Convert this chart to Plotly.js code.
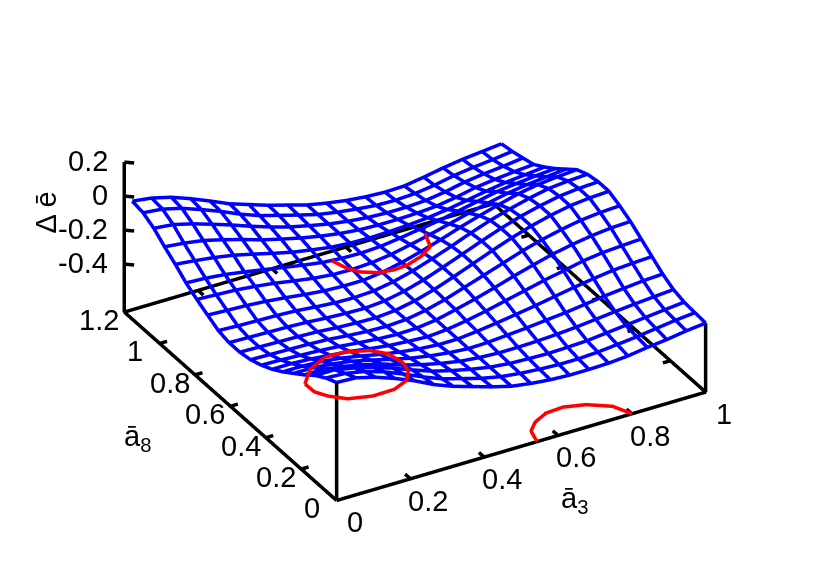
<!DOCTYPE html>
<html><head><meta charset="utf-8">
<script src="https://cdn.plot.ly/plotly-3.0.1.min.js"></script>
<style>html,body{margin:0;padding:0;background:#fff}#g{width:830px;height:581px}</style></head>
<body><div id="g"></div>
<script>
const xs=[0,.0526,.1053,.1579,.2105,.2632,.3158,.3684,.4211,.4737,.5263,.5789,.6316,.6842,.7368,.7895,.8421,.8947,.9474,1];
const ys=[0,.0608,.1215,.1823,.2431,.3039,.3646,.4254,.4862,.547,.6077,.6685,.7293,.7901,.8508,.9116,.9724,1.0332,1.0939,1.1547];
const Z=[
[.012,.006,-.024,-.065,-.112,-.168,-.212,-.247,-.282,-.312,-.329,-.341,-.347,-.347,-.344,-.335,-.318,-.306,-.288,-.276],
[-.018,-.024,-.047,-.082,-.129,-.179,-.224,-.256,-.288,-.312,-.326,-.335,-.341,-.341,-.335,-.324,-.312,-.297,-.282,-.271],
[-.059,-.059,-.082,-.112,-.15,-.194,-.235,-.265,-.291,-.312,-.324,-.329,-.332,-.329,-.324,-.312,-.3,-.288,-.276,-.265],
[-.112,-.112,-.129,-.153,-.182,-.221,-.253,-.279,-.3,-.312,-.318,-.318,-.315,-.309,-.3,-.288,-.276,-.265,-.256,-.247],
[-.159,-.159,-.171,-.188,-.215,-.244,-.271,-.291,-.306,-.315,-.312,-.303,-.294,-.282,-.271,-.256,-.241,-.229,-.218,-.212],
[-.206,-.206,-.212,-.226,-.247,-.271,-.291,-.306,-.315,-.315,-.303,-.288,-.271,-.253,-.232,-.212,-.194,-.179,-.171,-.165],
[-.247,-.247,-.253,-.265,-.276,-.294,-.309,-.318,-.324,-.315,-.297,-.274,-.247,-.221,-.194,-.171,-.147,-.132,-.124,-.118],
[-.279,-.282,-.288,-.294,-.303,-.315,-.326,-.332,-.329,-.315,-.288,-.259,-.226,-.191,-.159,-.129,-.106,-.088,-.076,-.071],
[-.303,-.306,-.309,-.312,-.318,-.329,-.338,-.341,-.335,-.315,-.285,-.247,-.209,-.171,-.132,-.1,-.074,-.053,-.041,-.035],
[-.315,-.318,-.321,-.324,-.329,-.338,-.344,-.347,-.338,-.315,-.282,-.241,-.197,-.153,-.112,-.076,-.047,-.024,-.012,-.006],
[-.315,-.318,-.321,-.324,-.329,-.338,-.344,-.347,-.338,-.315,-.282,-.241,-.197,-.153,-.112,-.076,-.047,-.024,-.012,-.006],
[-.3,-.306,-.309,-.312,-.318,-.329,-.338,-.341,-.335,-.315,-.285,-.247,-.206,-.162,-.121,-.088,-.059,-.035,-.024,-.018],
[-.265,-.271,-.276,-.285,-.297,-.312,-.324,-.329,-.329,-.315,-.291,-.259,-.224,-.185,-.15,-.118,-.088,-.068,-.056,-.047],
[-.229,-.235,-.241,-.253,-.268,-.288,-.306,-.318,-.321,-.315,-.3,-.276,-.25,-.221,-.191,-.165,-.141,-.124,-.112,-.1],
[-.188,-.194,-.206,-.224,-.244,-.265,-.285,-.303,-.312,-.315,-.309,-.294,-.276,-.259,-.235,-.212,-.188,-.174,-.162,-.153],
[-.135,-.147,-.162,-.182,-.209,-.238,-.265,-.285,-.303,-.312,-.315,-.312,-.306,-.297,-.282,-.262,-.241,-.224,-.212,-.2],
[-.088,-.1,-.118,-.147,-.179,-.215,-.244,-.271,-.294,-.312,-.324,-.329,-.329,-.326,-.318,-.3,-.276,-.262,-.25,-.241],
[-.035,-.047,-.076,-.112,-.15,-.191,-.229,-.262,-.288,-.312,-.329,-.341,-.347,-.347,-.341,-.324,-.3,-.285,-.274,-.259],
[0,-.012,-.041,-.082,-.126,-.176,-.218,-.25,-.282,-.312,-.332,-.347,-.359,-.362,-.356,-.341,-.318,-.303,-.291,-.276],
[.012,-.003,-.032,-.074,-.121,-.171,-.209,-.247,-.279,-.312,-.335,-.353,-.365,-.371,-.368,-.35,-.329,-.312,-.3,-.288]];
const zBase=-0.682, zTop=0.2, yEnd=1.2;
const c1x=[.203,.246,.305,.358,.412,.442,.451,.443,.419,.373,.314,.256,.222,.204,.203];
const c1y=[.6025,.664,.702,.699,.671,.629,.566,.519,.477,.451,.449,.471,.512,.551,.6025];
const c2x=[.540,.554,.573,.606,.646,.685,.731,.773,.793];
const c2y=[1.1547,1.0956,1.06,1.033,1.023,1.028,1.049,1.0835,1.1547];
const c3x=[.543,.555,.584,.627,.675,.728,.778,.80];
const c3y=[0,.059,.096,.124,.129,.108,.063,0];
const xTicks=[0,.2,.4,.6,.8,1], xLabels=['0','0.2','0.4','0.6','0.8','1'];
const yTicks=[0,.2,.4,.6,.8,1,1.2], yLabels=['0','0.2','0.4','0.6','0.8','1','1.2'];
const zTicks=[-.4,-.2,0,.2], zLabels=['-0.4','-0.2','0','0.2'];

function seg(a){const o={x:[],y:[],z:[]};a.forEach(s=>{s.forEach(p=>{o.x.push(p[0]);o.y.push(p[1]);o.z.push(p[2]);});o.x.push(null);o.y.push(null);o.z.push(null);});return o;}
const wire=[];
ys.forEach((y,i)=>wire.push(xs.map((x,j)=>[x,y,Z[i][j]])));
xs.forEach((x,j)=>wire.push(ys.map((y,i)=>[x,y,Z[i][j]])));
const box=[[[0,0,zBase],[1,0,zBase],[1,yEnd,zBase],[0,yEnd,zBase],[0,0,zBase]],
 [[0,yEnd,zBase],[0,yEnd,zTop]],
 [[0,0,zBase],[0,0,Z[0][0]]],
 [[1,0,zBase],[1,0,Z[0][19]]]];
xTicks.slice(1,-1).forEach(t=>{box.push([[t,0,zBase],[t,.03,zBase]]);box.push([[t,yEnd,zBase],[t,yEnd-.03,zBase]]);});
yTicks.slice(1,-1).forEach(t=>{box.push([[0,t,zBase],[.02,t,zBase]]);box.push([[1,t,zBase],[.98,t,zBase]]);});
zTicks.forEach(t=>{box.push([[0,yEnd,t],[.018,yEnd-.018,t]]);});
const LW=7;
const traces=[
 Object.assign({type:'scatter3d',mode:'lines',line:{color:'#000',width:LW},hoverinfo:'skip',showlegend:false},seg(box)),
 Object.assign({type:'scatter3d',mode:'lines',line:{color:'#0000ff',width:LW},showlegend:false},seg(wire)),
 {type:'scatter3d',scene:'scene2',mode:'lines',x:c1x,y:c1y,z:c1x.map(()=>zBase),line:{color:'#ff0000',width:LW},showlegend:false},
 {type:'scatter3d',scene:'scene2',mode:'lines',x:c2x,y:c2y,z:c2x.map(()=>zBase),line:{color:'#ff0000',width:LW},showlegend:false},
 {type:'scatter3d',scene:'scene2',mode:'lines',x:c3x,y:c3y,z:c3x.map(()=>zBase),line:{color:'#ff0000',width:LW},showlegend:false}
];
const F={family:'Liberation Sans, Arial, sans-serif',size:29,color:'#000'};
const ann=[];
xTicks.forEach((t,k)=>ann.push({x:t,y:0,z:zBase,text:xLabels[k],showarrow:false,xshift:18,yshift:-22,font:F}));
yTicks.forEach((t,k)=>ann.push({x:0,y:t,z:zBase,text:yLabels[k],showarrow:false,xshift:-25,yshift:-8,font:F}));
zTicks.forEach((t,k)=>ann.push({x:0,y:yEnd,z:t,text:zLabels[k],showarrow:false,xshift:-14,yshift:1,xanchor:'right',font:F}));
ann.push({x:.62,y:0,z:zBase,text:'ā<sub>3</sub>',showarrow:false,xshift:9,yshift:-67,font:F});
ann.push({x:0,y:.62,z:zBase,text:'ā<sub>8</sub>',showarrow:false,xshift:-89,yshift:-35,font:F});
ann.push({x:0,y:yEnd,z:-.1,text:'Δ ē',showarrow:false,xshift:-78,yshift:1,textangle:-90,font:F});
const dir=[-.4287,-.7454,.5105], R=1.5, cz=-0.0536;
const ax={visible:false,showgrid:false,zeroline:false,showticklabels:false,showspikes:false,showbackground:false};
function sceneCfg(a){return {domain:{x:[0,1],y:[0,1]},aspectmode:'manual',aspectratio:{x:1.495,y:1.495,z:.614},
  xaxis:Object.assign({range:[-.01,1.01]},ax),yaxis:Object.assign({range:[-.012,yEnd+.012]},ax),zaxis:Object.assign({range:[zBase-.01,zTop+.01]},ax),
  camera:{projection:{type:'orthographic'},up:{x:0,y:0,z:1},center:{x:0,y:0,z:cz},eye:{x:dir[0]*R,y:dir[1]*R,z:dir[2]*R+cz}},
  annotations:a};}
const layout={width:830,height:581,margin:{l:0,r:0,t:0,b:0},paper_bgcolor:'#fff',showlegend:false,
 scene:sceneCfg([]),scene2:sceneCfg(ann)};
Plotly.newPlot('g',traces,layout,{displayModeBar:false});
</script></body></html>
